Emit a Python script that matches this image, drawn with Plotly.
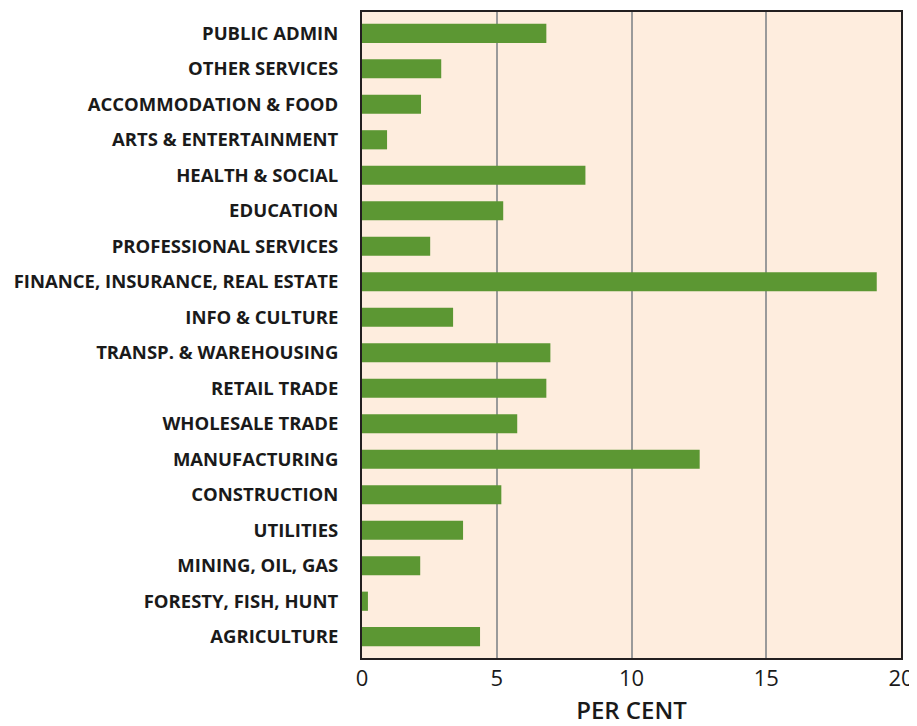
import plotly.graph_objects as go

categories = ["AGRICULTURE", "FORESTY, FISH, HUNT", "MINING, OIL, GAS", "UTILITIES",
              "CONSTRUCTION", "MANUFACTURING", "WHOLESALE TRADE", "RETAIL TRADE",
              "TRANSP. & WAREHOUSING", "INFO & CULTURE", "FINANCE, INSURANCE, REAL ESTATE",
              "PROFESSIONAL SERVICES", "EDUCATION", "HEALTH & SOCIAL", "ARTS & ENTERTAINMENT",
              "ACCOMMODATION & FOOD", "OTHER SERVICES", "PUBLIC ADMIN"]
values = [4.38, 0.22, 2.16, 3.75, 5.17, 12.53, 5.76, 6.84, 6.99, 3.38, 19.1,
          2.53, 5.24, 8.29, 0.93, 2.19, 2.94, 6.84]
x_ticks = [0, 5, 10, 15, 20]

fig = go.Figure(go.Bar(
    x=values, y=categories, orientation="h",
    marker=dict(color="#5C9733", line=dict(width=0)),
    width=0.54,
))

fig.update_layout(
    width=909, height=718,
    margin=dict(l=354, r=16, t=2, b=68),
    paper_bgcolor="white",
    plot_bgcolor="#FEEDDE",
    showlegend=False,
    font=dict(family="Open Sans", color="#1a1a1a"),
)
fig.update_xaxes(
    range=[0, 20], tickvals=x_ticks, ticktext=[str(t) for t in x_ticks],
    showgrid=True, gridcolor="#9a9a9a", gridwidth=2,
    showline=True, linecolor="#231f20", linewidth=2, mirror=True,
    zeroline=False, ticks="",
    tickfont=dict(size=22, family="Open Sans", color="#1a1a1a", weight=500),
    title=dict(text="PER CENT", font=dict(size=24, family="Open Sans", color="#1a1a1a", weight=600), standoff=14),
    fixedrange=True,
)
fig.update_yaxes(
    range=[-0.6, 17.6],
    showgrid=False,
    showline=True, linecolor="#231f20", linewidth=2, mirror=True,
    ticks="", ticklabelstandoff=18,
    tickfont=dict(size=18.5, family="Open Sans", color="#1a1a1a", weight=700),
    fixedrange=True,
)

fig.write_html("out.html")
